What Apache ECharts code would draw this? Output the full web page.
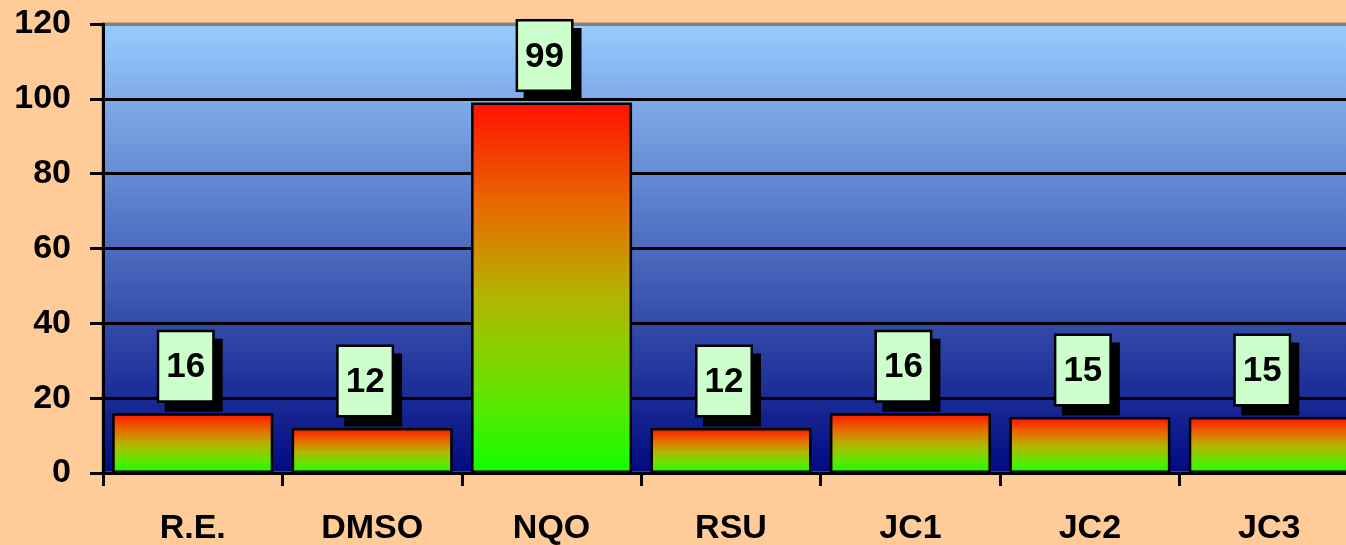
<!DOCTYPE html>
<html>
<head>
<meta charset="utf-8">
<script src="https://cdn.jsdelivr.net/npm/echarts@6/dist/echarts.min.js"></script>
<style>
  html, body { margin: 0; padding: 0; background: #FFCC99; }
  #chart { width: 1346px; height: 545px; }
</style>
</head>
<body>
<div id="chart"></div>
<script>
// Sample groups and their measured values
const categories = ['R.E.', 'DMSO', 'NQO', 'RSU', 'JC1', 'JC2', 'JC3'];
const values = [16, 12, 99, 12, 16, 15, 15];
const yTicks = { min: 0, max: 120, interval: 20 };

const chart = echarts.init(document.getElementById('chart'), null, { renderer: 'canvas' });

const font = '"Liberation Sans", Arial, sans-serif';

// Bar fill: red at the top fading to green at the base
const barFill = {
  type: 'linear', x: 0, y: 0, x2: 0, y2: 1,
  colorStops: [
    { offset: 0, color: '#FF1100' },
    { offset: 0.28, color: '#E86A00' },
    { offset: 0.52, color: '#B4B400' },
    { offset: 0.78, color: '#66E400' },
    { offset: 1, color: '#11FF00' }
  ]
};

// Plot background: light sky blue to navy
const plotFill = {
  type: 'linear', x: 0, y: 0, x2: 0, y2: 1,
  colorStops: [
    { offset: 0, color: '#99CCFF' },
    { offset: 1, color: '#000A80' }
  ]
};

chart.setOption({
  backgroundColor: '#FFCC99',
  animation: false,
  grid: {
    left: 103, top: 24, width: 1256, height: 449,
    outerBoundsMode: 'none',
    containLabel: false,
    show: true,
    backgroundColor: plotFill,
    borderColor: '#808080',
    borderWidth: 3
  },
  xAxis: {
    type: 'category',
    data: categories,
    axisLine: { lineStyle: { color: '#000', width: 3 } },
    axisTick: { show: true, length: 13, lineStyle: { color: '#000', width: 3 } },
    axisLabel: {
      margin: 39,
      color: '#000',
      fontFamily: font,
      fontWeight: 'bold',
      fontSize: 34
    }
  },
  yAxis: {
    type: 'value',
    min: yTicks.min, max: yTicks.max, interval: yTicks.interval,
    axisLine: { show: true, lineStyle: { color: '#000', width: 3 } },
    axisTick: { show: true, length: 13, lineStyle: { color: '#000', width: 3 } },
    axisLabel: {
      margin: 32,
      color: '#000',
      fontFamily: font,
      fontWeight: 'bold',
      fontSize: 34
    },
    splitLine: {
      show: true,
      lineStyle: {
        color: ['#000', '#000', '#000', '#000', '#000', '#000', '#808080'],
        width: 3
      }
    }
  },
  series: [{
    type: 'bar',
    data: values,
    barWidth: 161,
    itemStyle: {
      color: barFill,
      borderColor: '#000',
      borderWidth: 2.5
    },
    label: {
      show: true,
      position: 'top',
      distance: 13,
      offset: [-7, 0],
      color: '#000',
      fontFamily: font,
      fontWeight: 'bold',
      fontSize: 35,
      lineHeight: 35,
      backgroundColor: '#CCFFCC',
      borderColor: '#000',
      borderWidth: 2.5,
      padding: [18, 7, 15, 7],
      shadowColor: '#000',
      shadowBlur: 0,
      shadowOffsetX: 8,
      shadowOffsetY: 9
    }
  }]
});
</script>
</body>
</html>
